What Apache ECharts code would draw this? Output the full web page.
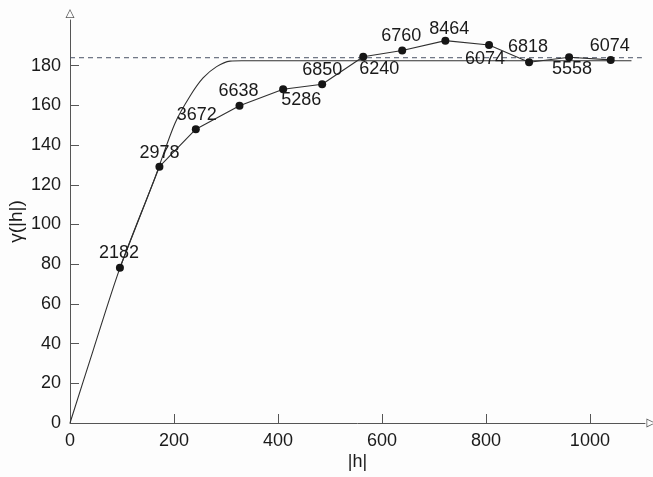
<!DOCTYPE html>
<html>
<head>
<meta charset="utf-8">
<script src="https://cdn.jsdelivr.net/npm/echarts@6/dist/echarts.min.js"></script>
<style>
  html, body { margin: 0; padding: 0; background: #fdfdfd; }
  #chart { width: 653px; height: 477px; }
</style>
</head>
<body>
<div id="chart"></div>
<script>
// Experimental variogram: lag distance |h|, semivariance and number of pairs per lag
const lagDistances = [96, 172, 242, 326, 410, 485, 564, 639, 722, 806, 883, 960, 1040];
const semivariances = [78.2, 129.1, 148.0, 159.8, 168.1, 170.6, 184.5, 187.6, 192.6, 190.4, 181.7, 184.2, 182.9];
const pairCounts = [2182, 2978, 3672, 6638, 5286, 6850, 6240, 6760, 8464, 6074, 6818, 5558, 6074];

// Fitted model curve (rises from the origin to the sill, then stays flat)
const modelLags = [0, 45, 96, 164, 202, 231, 256, 282, 308, 330, 1080];
const modelValues = [0, 37, 78, 124, 151, 164.7, 173.8, 179.5, 182.3, 182.5, 182.5];

// Sample variance, drawn as a dashed horizontal line
const sillLags = [0, 1100];
const sillValue = 184;

// Axis tick values
const xTickValues = [0, 200, 400, 600, 800, 1000];
const yTickValues = [0, 20, 40, 60, 80, 100, 120, 140, 160, 180];

// Where each pair-count label sits relative to its point [dx, dy]
const countLabelOffsets = [
  [-1, -15], [0, -14], [1, -14], [-1, -15], [18, 11], [0, -14], [16, 12],
  [-1, -15], [4, -12], [-4, 14], [-1, -15], [3, 12], [-1, -14]
];

const textColor = '#1a1a1a';
const lineColor = '#303030';
const axisColor = '#555555';
const fontFamily = '"Liberation Sans", Arial, sans-serif';

// Hollow arrow head: outer triangle with a reversed inner triangle as a hole
const hollowArrow = 'path://M50 0 L100 100 L0 100 Z M50 16 L13 92 L87 92 Z';

const chart = echarts.init(document.getElementById('chart'), null, { renderer: 'canvas' });

const plainNumber = v => String(v);

const option = {
  animation: false,
  backgroundColor: '#fdfdfd',
  grid: { left: 70, right: 8, top: 20, bottom: 54, containLabel: false, outerBoundsMode: 'none' },
  xAxis: {
    type: 'value',
    min: 0,
    max: 1106,
    name: '|h|',
    nameLocation: 'middle',
    nameGap: 30,
    nameMoveOverlap: false,
    nameTextStyle: { color: textColor, fontSize: 18, fontFamily: fontFamily },
    axisLine: {
      show: true,
      onZero: false,
      symbol: ['none', hollowArrow],
      symbolSize: [9, 12],
      symbolOffset: [0, 6],
      lineStyle: { color: axisColor, width: 1 }
    },
    axisTick: {
      show: true,
      inside: true,
      length: 9,
      customValues: xTickValues,
      lineStyle: { color: axisColor, width: 1 }
    },
    axisLabel: {
      show: true,
      margin: 9,
      customValues: xTickValues,
      formatter: plainNumber,
      color: textColor,
      fontSize: 18,
      fontFamily: fontFamily
    },
    splitLine: { show: false }
  },
  yAxis: {
    type: 'value',
    min: 0,
    max: 203,
    name: 'γ(|h|)',
    nameLocation: 'middle',
    nameGap: 44,
    nameMoveOverlap: false,
    nameTextStyle: { color: textColor, fontSize: 19, fontFamily: fontFamily },
    axisLine: {
      show: true,
      onZero: false,
      symbol: ['none', hollowArrow],
      symbolSize: [9, 13],
      symbolOffset: [0, 6.5],
      lineStyle: { color: axisColor, width: 1 }
    },
    axisTick: {
      show: true,
      inside: true,
      length: 9,
      customValues: yTickValues,
      lineStyle: { color: axisColor, width: 1 }
    },
    axisLabel: {
      show: true,
      margin: 9,
      customValues: yTickValues,
      formatter: plainNumber,
      color: textColor,
      fontSize: 18,
      fontFamily: fontFamily
    },
    splitLine: { show: false }
  },
  series: [
    {
      name: 'model',
      type: 'line',
      data: modelLags.map((h, i) => [h, modelValues[i]]),
      showSymbol: false,
      smooth: 0.3,
      lineStyle: { color: lineColor, width: 1.1 },
      z: 2
    },
    {
      name: 'variance',
      type: 'line',
      data: sillLags.map(h => [h, sillValue]),
      showSymbol: false,
      lineStyle: { color: '#4a5266', width: 1, type: [5, 4] },
      z: 1
    },
    {
      name: 'experimental',
      type: 'line',
      data: lagDistances.map((h, i) => ({
        value: [h, semivariances[i]],
        label: { offset: countLabelOffsets[i] }
      })),
      symbol: 'circle',
      symbolSize: 8,
      itemStyle: { color: '#151515' },
      lineStyle: { color: lineColor, width: 1.1 },
      label: {
        show: true,
        position: 'inside',
        formatter: p => String(pairCounts[p.dataIndex]),
        color: textColor,
        fontSize: 18,
        fontFamily: fontFamily
      },
      z: 3
    }
  ]
};

chart.setOption(option);
</script>
</body>
</html>
